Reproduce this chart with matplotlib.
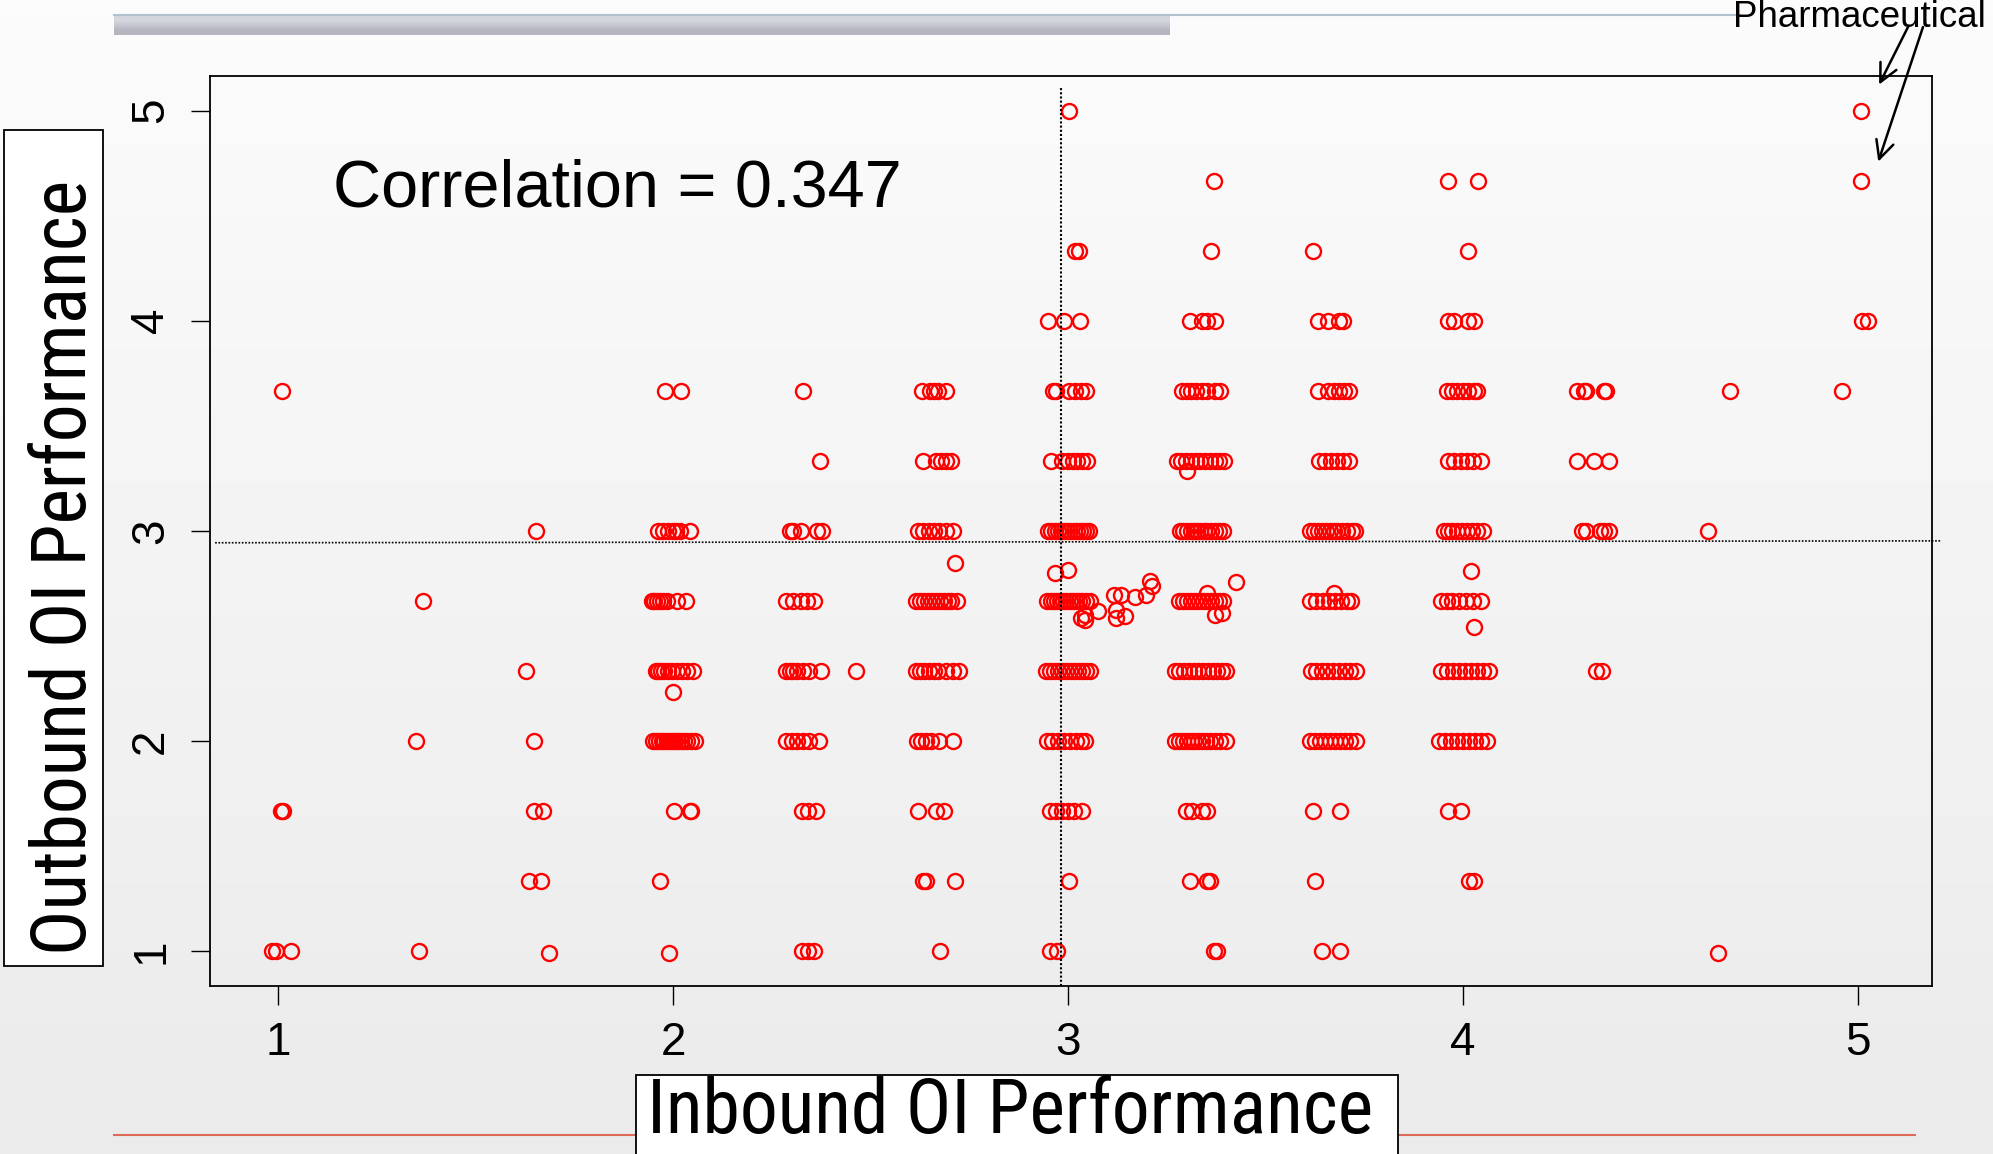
import numpy as np
import matplotlib
matplotlib.use("Agg")
import matplotlib.pyplot as plt
from matplotlib import font_manager
from matplotlib.patches import Rectangle
from matplotlib.lines import Line2D

# rows of the score grid and the (jittered) inbound score of every circle on that row
row_levels = [5.0, 4.667, 4.333, 4.0, 3.667, 3.333, 3.0, 2.667, 2.333, 2.0, 1.667, 1.333, 1.0]
row_x = [
    [3.003, 5.007],
    [3.37, 3.963, 4.038, 5.007],
    [3.017, 3.029, 3.361, 3.62, 4.012],
    [2.95, 2.99, 3.03, 3.308, 3.339, 3.353, 3.372, 3.634, 3.658, 3.687, 3.695,
     3.961, 3.978, 4.013, 4.027, 5.011, 5.026],
    [1.01, 1.98, 2.02, 2.328, 2.63, 2.65, 2.66, 2.67, 2.69, 2.961, 2.97, 3.003,
     3.018, 3.032, 3.045, 3.289, 3.30, 3.312, 3.325, 3.339, 3.353, 3.372, 3.385,
     3.634, 3.658, 3.672, 3.687, 3.698, 3.71, 3.96, 3.972, 3.985, 4.0, 4.013,
     4.027, 4.035, 4.289, 4.306, 4.312, 4.357, 4.363, 4.676, 4.958],
    [2.372, 2.633, 2.666, 2.678, 2.691, 2.704, 2.956, 2.985, 3.0, 3.012, 3.023,
     3.036, 3.048, 3.275, 3.287, 3.299, 3.311, 3.323, 3.335, 3.347, 3.359, 3.371,
     3.383, 3.395, 3.635, 3.65, 3.665, 3.68, 3.695, 3.71, 3.962, 3.978, 3.995,
     4.01, 4.025, 4.045, 4.289, 4.331, 4.369],
    [1.652, 1.962, 1.975, 1.987, 2.0, 2.008, 2.018, 2.043, 2.296, 2.304, 2.324,
     2.365, 2.377, 2.62, 2.633, 2.647, 2.66, 2.673, 2.69, 2.71, 2.95, 2.958,
     2.966, 2.974, 2.982, 2.99, 2.998, 3.006, 3.014, 3.022, 3.03, 3.038, 3.046,
     3.052, 3.283, 3.292, 3.30, 3.31, 3.318, 3.326, 3.335, 3.344, 3.353, 3.362,
     3.372, 3.382, 3.393, 3.612, 3.622, 3.632, 3.642, 3.652, 3.662, 3.672, 3.682,
     3.694, 3.706, 3.718, 3.726, 3.952, 3.962, 3.972, 3.985, 3.998, 4.01, 4.022,
     4.036, 4.05, 4.30, 4.31, 4.347, 4.357, 4.369, 4.621],
    [1.368, 1.947, 1.953, 1.96, 1.966, 1.975, 1.985, 2.01, 2.033, 2.286, 2.304,
     2.324, 2.339, 2.357, 2.615, 2.625, 2.635, 2.645, 2.655, 2.665, 2.675, 2.685,
     2.695, 2.705, 2.718, 2.948, 2.956, 2.964, 2.972, 2.98, 2.988, 2.996, 3.004,
     3.012, 3.02, 3.028, 3.036, 3.045, 3.055, 3.282, 3.292, 3.302, 3.312, 3.322,
     3.332, 3.342, 3.352, 3.362, 3.372, 3.382, 3.392, 3.612, 3.628, 3.645, 3.66,
     3.675, 3.69, 3.705, 3.716, 3.945, 3.96, 3.972, 3.99, 4.008, 4.025, 4.045],
    [1.627, 1.956, 1.963, 1.97, 1.978, 1.988, 1.998, 2.01, 2.022, 2.036, 2.05,
     2.286, 2.295, 2.305, 2.315, 2.33, 2.345, 2.375, 2.463, 2.615, 2.625, 2.635,
     2.648, 2.66, 2.672, 2.69, 2.71, 2.725, 2.945, 2.955, 2.965, 2.975, 2.985,
     2.995, 3.005, 3.015, 3.025, 3.035, 3.045, 3.055, 3.27, 3.282, 3.294, 3.306,
     3.318, 3.33, 3.342, 3.354, 3.366, 3.378, 3.39, 3.40, 3.615, 3.628, 3.642,
     3.656, 3.67, 3.685, 3.7, 3.715, 3.73, 3.945, 3.96, 3.975, 3.99, 4.005, 4.02,
     4.035, 4.05, 4.065, 4.336, 4.351],
    [1.349, 1.647, 1.95, 1.957, 1.964, 1.971, 1.978, 1.985, 1.992, 1.999, 2.006,
     2.013, 2.02, 2.028, 2.036, 2.045, 2.055, 2.286, 2.30, 2.315, 2.33, 2.345,
     2.37, 2.617, 2.628, 2.641, 2.653, 2.673, 2.709, 2.947, 2.96, 2.975, 2.99,
     3.005, 3.02, 3.032, 3.043, 3.27, 3.28, 3.29, 3.3, 3.31, 3.32, 3.33, 3.34,
     3.35, 3.36, 3.372, 3.385, 3.40, 3.612, 3.625, 3.638, 3.65, 3.662, 3.675,
     3.688, 3.7, 3.715, 3.73, 3.94, 3.955, 3.97, 3.985, 4.0, 4.015, 4.03, 4.045,
     4.06],
    [1.008, 1.012, 1.648, 1.671, 2.003, 2.043, 2.045, 2.327, 2.342, 2.362, 2.62,
     2.666, 2.686, 2.954, 2.97, 2.985, 3.0, 3.015, 3.035, 3.298, 3.315, 3.34,
     3.353, 3.619, 3.689, 3.962, 3.994],
    [1.635, 1.665, 1.967, 2.633, 2.64, 2.714, 3.003, 3.308, 3.353, 3.359, 3.625,
     4.015, 4.028],
    [0.985, 0.994, 1.034, 1.357, 2.327, 2.342, 2.357, 2.676, 2.955, 2.972, 3.37,
     3.378, 3.644, 3.688],
]

# circles that sit between the grid rows
extra_x = [1.686, 1.99, 4.646, 2.0, 2.714, 2.966, 3.0, 4.02, 4.027, 3.30, 3.043,
           3.034, 3.043, 3.077, 3.116, 3.135, 3.121, 3.121, 3.145, 3.169, 3.198,
           3.208, 3.212, 3.424, 3.353, 3.372, 3.39, 3.673]
extra_y = [0.992, 0.99, 0.988, 2.233, 2.848, 2.799, 2.814, 2.81, 2.541, 3.287, 2.6,
           2.584, 2.576, 2.616, 2.695, 2.695, 2.624, 2.584, 2.592, 2.687, 2.695,
           2.759, 2.735, 2.757, 2.703, 2.6, 2.608, 2.703]

ticks = [1, 2, 3, 4, 5]
mean_in = 2.982   # dotted reference lines
mean_out = (2.943, 2.952)

xs = [x for lev, row in zip(row_levels, row_x) for x in row] + extra_x
ys = [lev for lev, row in zip(row_levels, row_x) for x in row] + extra_y


def narrow_font():
    # look for any condensed sans face; the axis titles in the slide are narrow
    wanted = ['Liberation Sans Narrow', 'Arial Narrow', 'Roboto Condensed',
              'Open Sans Condensed']
    fonts = font_manager.fontManager.ttflist
    for name in wanted:
        for f in fonts:
            if f.name == name and f.style == 'normal' and f.weight in (400, 'normal'):
                return font_manager.FontProperties(fname=f.fname)
    for f in fonts:
        if f.name == 'DejaVu Sans' and f.stretch == 'condensed' and \
                f.style == 'normal' and f.weight in (400, 'normal'):
            return font_manager.FontProperties(fname=f.fname)
    return None


plt.rcParams['font.family'] = ['Liberation Sans', 'DejaVu Sans']
lab_fp = narrow_font()
if lab_fp is not None:
    lab_fp.set_size(54.5)
else:
    lab_fp = font_manager.FontProperties(family='Liberation Sans', size=48)

W, H = 1993, 1154
fig = plt.figure(figsize=(W / 100, H / 100), dpi=100)


def fx(p):
    return p / W


def fy(p):
    return 1 - p / H


# slide background
bg = fig.add_axes([0, 0, 1, 1], zorder=-10)
grad = np.linspace(0.985, 0.918, 256).reshape(-1, 1)
bg.imshow(grad, cmap='gray', vmin=0, vmax=1, aspect='auto', extent=(0, 1, 0, 1),
          interpolation='bilinear')
bg.axis('off')

# grey title bar and the thin line above it
bar = fig.add_axes([fx(114), fy(35), fx(1170 - 114), 19 / H], zorder=-5)
bar_col = np.array([[[0.83, 0.84, 0.87]], [[0.71, 0.71, 0.75]]])
bar.imshow(bar_col, aspect='auto', interpolation='bilinear')
bar.axis('off')
fig.add_artist(Line2D([fx(114), fx(1740)], [fy(15), fy(15)], color='#b3c1cf', lw=1.5,
                      zorder=1))
fig.add_artist(Line2D([fx(114), fx(1915)], [fy(1135), fy(1135)], color='#de6a5a', lw=1.5,
                      zorder=1))

ax = fig.add_axes([fx(210), fy(986), fx(1722), 910 / H], zorder=2)
ax.patch.set_alpha(0)
ax.plot(xs, ys, 'o', mfc='none', mec='#ff0000', ms=10.8, mew=1.7, ls='none')

ax.plot([mean_in, mean_in], [0.833, 5.119], color='black', lw=1.5,
        ls=(0, (1, 1)), clip_on=False)
ax.plot([0.841, 5.208], list(mean_out), color='black', lw=1.2,
        ls=(0, (1, 1)), clip_on=False)

ax.set_xlim(0.828, 5.187)
ax.set_ylim(0.833, 5.165)
ax.set_xticks(ticks)
ax.set_yticks(ticks)
ax.set_xticklabels([str(t) for t in ticks])
ax.set_yticklabels([str(t) for t in ticks], rotation=90, va='center')
ax.tick_params(direction='out', length=13.5, width=1.0, labelsize=33, colors='black')
ax.tick_params(axis='x', pad=12)
ax.tick_params(axis='y', pad=13)
for s in ax.spines.values():
    s.set_linewidth(1.3)

ax.text(1.139, 4.543, 'Correlation = 0.347', fontsize=48, va='baseline', ha='left')

# annotation for the two pharmaceutical firms
fig.text(fx(1733), fy(27), 'Pharmaceutical', fontsize=26.5, va='baseline', ha='left')
arrow = dict(arrowstyle='->, head_length=0.65, head_width=0.32', lw=1.8,
             color='black', shrinkA=0, shrinkB=0, mutation_scale=20)
ax.annotate('', xy=(5.053, 5.124), xytext=(1908, H - 27), textcoords='figure pixels',
            arrowprops=arrow, annotation_clip=False)
ax.annotate('', xy=(5.051, 4.757), xytext=(1923, H - 27), textcoords='figure pixels',
            arrowprops=arrow, annotation_clip=False)

# axis-title boxes pasted over the chart
fig.add_artist(Rectangle((fx(4), fy(966)), fx(99), 836 / H, transform=fig.transFigure,
                         fc='white', ec='black', lw=1.3, zorder=3))
fig.text(fx(86), fy(567), 'Outbound OI Performance', rotation=90, rotation_mode='anchor',
         ha='center', va='baseline', fontproperties=lab_fp, zorder=4)
fig.add_artist(Rectangle((fx(636), fy(1160)), fx(1398 - 636), 85 / H,
                         transform=fig.transFigure, fc='white', ec='black', lw=1.3,
                         zorder=3))
fig.text(fx(1010), fy(1133), 'Inbound OI Performance', ha='center', va='baseline',
         fontproperties=lab_fp, zorder=4)

fig.savefig('out.png', dpi=100)
